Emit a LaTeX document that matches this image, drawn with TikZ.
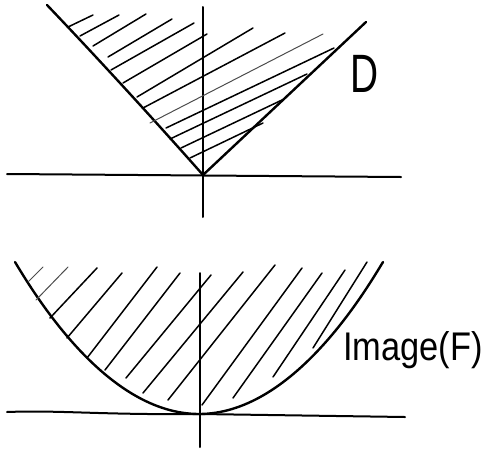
\documentclass[tikz,border=0pt]{standalone}
\usepackage{fontspec}
\setmainfont{Liberation Sans}
\tikzset{
  axis/.style={line width=2pt, line cap=round},
  curve/.style={line width=2.4pt, line cap=round, line join=round},
  hatch/.style={line width=1.5pt, line cap=round},
  faint/.style={line width=1pt, line cap=round, black!70},
  lbl/.style={inner sep=0pt, anchor=base west}
}
\begin{document}
\begin{tikzpicture}[x=1pt,y=-1pt]
\useasboundingbox (0,0) rectangle (484,450);
% ---------- top: domain D ----------
\coordinate (O1) at (203,175);
\coordinate (L1) at (47,5);
\coordinate (R1) at (366,22);
\draw[axis] (7,174) -- (401,177);
\draw[axis] (203,7) -- (203,217);
\draw[curve] (L1) .. controls (90,50) and (150,115) .. (O1) -- (R1);
% hatching
\draw[hatch] (68,27) -- (93,15);
\draw[hatch] (80,36) -- (119,15);
\draw[hatch] (93,46) -- (146,14);
\draw[hatch] (108,57) -- (172,19);
\draw[hatch] (111,70) -- (194,23);
\draw[hatch] (123,83) -- (207,34);
\draw[hatch] (137,97) -- (253,28);
\draw[hatch] (143,108) -- (285,33);
\draw[faint] (150,123) -- (323,34);
\draw[hatch] (166,128) -- (334,48);
\draw[hatch] (170,139) -- (307,74);
\draw[hatch] (181,148) -- (282,100);
\draw[hatch] (190,158) -- (263,123);
\node[lbl, xscale=0.72] (D) at (350,92) {\fontsize{54}{54}\selectfont D};
% ---------- bottom: Image(F) ----------
\coordinate (O2) at (199,414);
\coordinate (L2) at (15,262);
\coordinate (R2) at (383,262);
\draw[axis] (7,412) .. controls (60,410) and (100,415) .. (200,414) -- (405,417);
\draw[axis] (200,273) -- (200,447);
\draw[curve] (L2) parabola bend (O2) (R2);
% hatching
\draw[faint] (28,282) -- (43,267);
\draw[faint] (36,300) -- (68,267);
\draw[hatch] (50,318) -- (97,268);
\draw[hatch] (67,338) -- (122,273);
\draw[hatch] (87,358) -- (157,267);
\draw[hatch] (105,370) -- (180,273);
\draw[hatch] (126,378) -- (211,275);
\draw[hatch] (143,393) -- (243,272);
\draw[hatch] (168,400) -- (275,265);
\draw[hatch] (202,405) -- (302,268);
\draw[hatch] (233,398) -- (322,273);
\draw[hatch] (273,377) -- (345,270);
\draw[hatch] (313,348) -- (367,262);
\node[lbl, xscale=0.86] (IF) at (343,360) {\fontsize{40}{40}\selectfont Image(F)};
\end{tikzpicture}
\end{document}
